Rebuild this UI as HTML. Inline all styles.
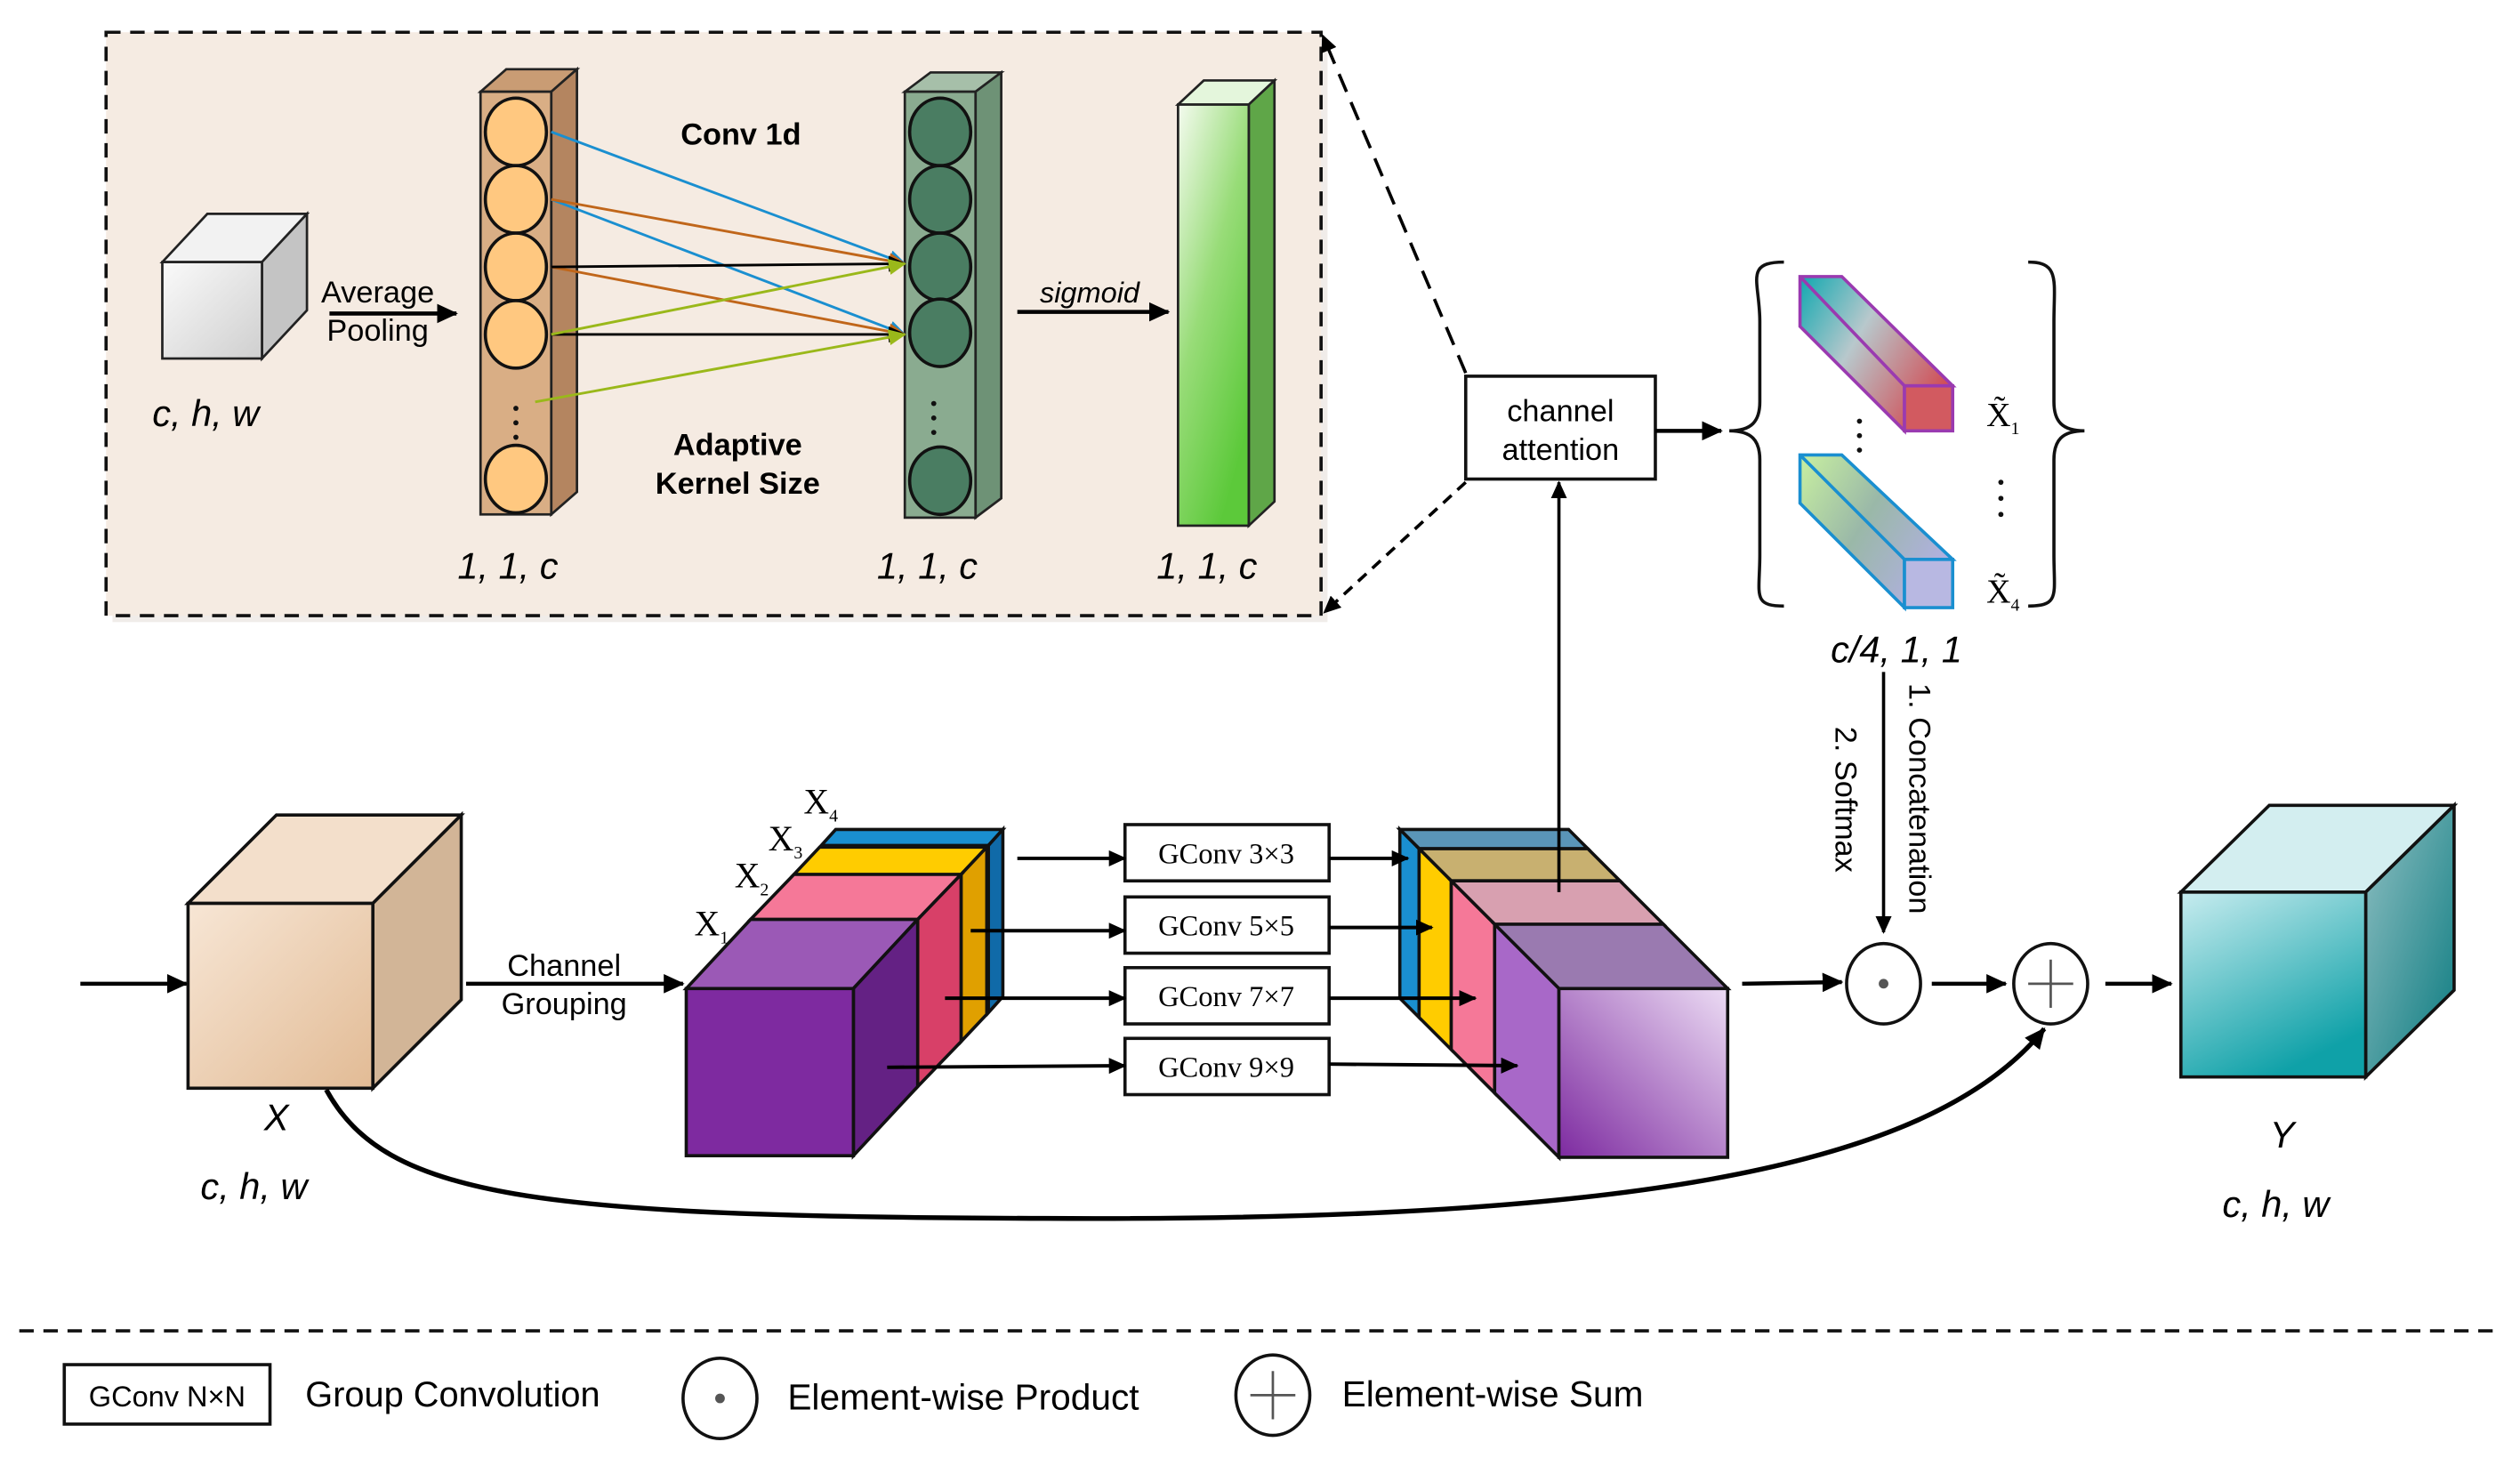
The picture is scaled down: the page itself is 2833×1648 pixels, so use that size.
<!DOCTYPE html>
<html><head><meta charset="utf-8"><style>html,body{margin:0;padding:0;background:#fff}svg{display:block}.s{font-family:"Liberation Sans",sans-serif}.r{font-family:"Liberation Serif",serif}</style></head><body>
<svg width="2833" height="1648" viewBox="0 0 1568 912" xmlns="http://www.w3.org/2000/svg" font-family="Liberation Sans, sans-serif">
<defs>
<marker id="a" markerWidth="14" markerHeight="12" refX="12" refY="6" orient="auto" markerUnits="userSpaceOnUse"><path d="M0,0 L13,6 L0,12 Z" fill="#000"/></marker>
<marker id="as" markerWidth="12" markerHeight="10" refX="10" refY="5" orient="auto" markerUnits="userSpaceOnUse"><path d="M0,0 L11,5 L0,10 Z" fill="#000"/></marker>
<marker id="ab" markerWidth="12" markerHeight="10" refX="10" refY="5" orient="auto" markerUnits="userSpaceOnUse"><path d="M0,0 L11,5 L0,10 Z" fill="#1a8fd0"/></marker>
<marker id="ao" markerWidth="12" markerHeight="10" refX="10" refY="5" orient="auto" markerUnits="userSpaceOnUse"><path d="M0,0 L11,5 L0,10 Z" fill="#c0661a"/></marker>
<marker id="ay" markerWidth="12" markerHeight="10" refX="10" refY="5" orient="auto" markerUnits="userSpaceOnUse"><path d="M0,0 L11,5 L0,10 Z" fill="#9ab81a"/></marker>
<linearGradient id="gw" x1="0" y1="0" x2="1" y2="1"><stop offset="0" stop-color="#fafafa"/><stop offset="1" stop-color="#cfcfcf"/></linearGradient>
<linearGradient id="gg" x1="0" y1="0" x2="0.6" y2="1"><stop offset="0" stop-color="#f4fbef"/><stop offset="0.5" stop-color="#98dc78"/><stop offset="1" stop-color="#5cc93a"/></linearGradient>
<linearGradient id="gx" x1="0" y1="0" x2="1" y2="1"><stop offset="0" stop-color="#f7e6d5"/><stop offset="1" stop-color="#e2bb95"/></linearGradient>
<linearGradient id="gy" x1="0" y1="0" x2="0.5" y2="1"><stop offset="0" stop-color="#c7ecef"/><stop offset="1" stop-color="#0fa1a8"/></linearGradient>
<linearGradient id="gys" x1="0" y1="0" x2="1" y2="1"><stop offset="0" stop-color="#8fbfc2"/><stop offset="1" stop-color="#0b7b80"/></linearGradient>
<linearGradient id="gp" x1="1" y1="0" x2="0" y2="1"><stop offset="0" stop-color="#ecdcf4"/><stop offset="1" stop-color="#7d2aa0"/></linearGradient>
<linearGradient id="t1" x1="0" y1="0" x2="1" y2="0.6"><stop offset="0" stop-color="#10a8b0"/><stop offset="0.45" stop-color="#b8c8cc"/><stop offset="1" stop-color="#d05058"/></linearGradient>
<linearGradient id="t2" x1="0" y1="0" x2="1" y2="0.6"><stop offset="0" stop-color="#c8f0a0"/><stop offset="0.5" stop-color="#9ab8a8"/><stop offset="1" stop-color="#b0b0e0"/></linearGradient>
</defs>

<rect x="70" y="24" width="756" height="363" fill="#e6e0da" opacity="0.6"/>
<rect x="66" y="20" width="756" height="363" fill="#f5ebe2" stroke="#111" stroke-width="2" stroke-dasharray="9,6"/>

<polygon points="101,163 163,163 191,133 129,133" fill="#f2f2f2" stroke="#222" stroke-width="1.5"/>
<polygon points="163,163 191,133 191,193 163,223" fill="#c4c4c4" stroke="#222" stroke-width="1.5"/>
<rect x="101" y="163" width="62" height="60" fill="url(#gw)" stroke="#222" stroke-width="1.5"/>
<text class="s" x="235" y="188" font-size="19" text-anchor="middle">Average</text>
<text class="s" x="235" y="212" font-size="19" text-anchor="middle">Pooling</text>
<line x1="205" y1="195" x2="284" y2="195" stroke="#000" stroke-width="2.5" marker-end="url(#a)"/>
<text class="s" x="128" y="265" font-size="23" font-style="italic" text-anchor="middle">c, h, w</text>

<polygon points="299,57 343,57 359,43 315,43" fill="#c99c74" stroke="#222" stroke-width="1.5"/>
<polygon points="343,57 359,43 359,306 343,320" fill="#b48560" stroke="#222" stroke-width="1.5"/>
<rect x="299" y="57" width="44" height="263" fill="#d9ae85" stroke="#222" stroke-width="1.5"/>
<g fill="#ffc880" stroke="#111" stroke-width="2">
<ellipse cx="321" cy="82" rx="19" ry="21"/><ellipse cx="321" cy="124" rx="19" ry="21"/><ellipse cx="321" cy="166" rx="19" ry="21"/><ellipse cx="321" cy="208" rx="19" ry="21"/><ellipse cx="321" cy="298" rx="19" ry="21"/></g>
<g fill="#111"><circle cx="321" cy="254" r="1.6"/><circle cx="321" cy="263" r="1.6"/><circle cx="321" cy="272" r="1.6"/></g>

<polygon points="563,57 607,57 623,45 579,45" fill="#a6bfa9" stroke="#222" stroke-width="1.5"/>
<polygon points="607,57 623,45 623,310 607,322" fill="#6e9276" stroke="#222" stroke-width="1.5"/>
<rect x="563" y="57" width="44" height="265" fill="#8aab90" stroke="#222" stroke-width="1.5"/>
<g fill="#4a7d62" stroke="#111" stroke-width="2">
<ellipse cx="585" cy="82" rx="19" ry="21"/><ellipse cx="585" cy="124" rx="19" ry="21"/><ellipse cx="585" cy="166" rx="19" ry="21"/><ellipse cx="585" cy="207" rx="19" ry="21"/><ellipse cx="585" cy="299" rx="19" ry="21"/></g>
<g fill="#111"><circle cx="581" cy="251" r="1.6"/><circle cx="581" cy="260" r="1.6"/><circle cx="581" cy="269" r="1.6"/></g>

<g stroke-width="1.6">
<line x1="343" y1="82" x2="563" y2="164" stroke="#1a8fd0" marker-end="url(#ab)"/>
<line x1="343" y1="124" x2="563" y2="208" stroke="#1a8fd0" marker-end="url(#ab)"/>
<line x1="343" y1="124" x2="563" y2="164" stroke="#c0661a" marker-end="url(#ao)"/>
<line x1="343" y1="166" x2="563" y2="208" stroke="#c0661a" marker-end="url(#ao)"/>
<line x1="343" y1="166" x2="563" y2="164" stroke="#000" marker-end="url(#as)"/>
<line x1="343" y1="208" x2="563" y2="208" stroke="#000" marker-end="url(#as)"/>
<line x1="343" y1="208" x2="563" y2="164" stroke="#9ab81a" marker-end="url(#ay)"/>
<line x1="333" y1="250" x2="563" y2="208" stroke="#9ab81a" marker-end="url(#ay)"/>
</g>
<text class="s" x="461" y="90" font-size="19" font-weight="bold" text-anchor="middle">Conv 1d</text>
<text class="s" x="459" y="283" font-size="19" font-weight="bold" text-anchor="middle">Adaptive</text>
<text class="s" x="459" y="307" font-size="19" font-weight="bold" text-anchor="middle">Kernel Size</text>
<text class="s" x="316" y="360" font-size="23" font-style="italic" text-anchor="middle">1, 1, c</text>
<text class="s" x="577" y="360" font-size="23" font-style="italic" text-anchor="middle">1, 1, c</text>
<text class="s" x="751" y="360" font-size="23" font-style="italic" text-anchor="middle">1, 1, c</text>
<text class="s" x="678" y="188" font-size="18" font-style="italic" text-anchor="middle">sigmoid</text>
<line x1="633" y1="194" x2="727" y2="194" stroke="#000" stroke-width="2.5" marker-end="url(#a)"/>

<polygon points="733,65 777,65 793,50 749,50" fill="#e4f6dc" stroke="#222" stroke-width="1.5"/>
<polygon points="777,65 793,50 793,312 777,327" fill="#5fa648" stroke="#222" stroke-width="1.5"/>
<rect x="733" y="65" width="44" height="262" fill="url(#gg)" stroke="#222" stroke-width="1.5"/>

<line x1="912" y1="232" x2="823" y2="22" stroke="#000" stroke-width="2" stroke-dasharray="12,7" marker-end="url(#as)"/>
<line x1="912" y1="300" x2="824" y2="381" stroke="#000" stroke-width="2" stroke-dasharray="7,5" marker-end="url(#as)"/>
<rect x="912" y="234" width="118" height="64" fill="#fff" stroke="#111" stroke-width="2"/>
<text class="s" x="971" y="262" font-size="19" text-anchor="middle">channel</text>
<text class="s" x="971" y="286" font-size="19" text-anchor="middle">attention</text>
<line x1="1030" y1="268" x2="1071" y2="268" stroke="#000" stroke-width="2.5" marker-end="url(#a)"/>

<path d="M1110,163 C1085,163 1095,175 1095,200 L1095,250 C1095,262 1090,268 1076,268 C1090,268 1095,274 1095,286 L1095,345 C1095,370 1090,377 1110,377" fill="none" stroke="#111" stroke-width="2"/>
<path d="M1262,163 C1282,163 1278,175 1278,200 L1278,250 C1278,262 1283,268 1297,268 C1283,268 1278,274 1278,286 L1278,345 C1278,370 1282,377 1262,377" fill="none" stroke="#111" stroke-width="2"/>
<polygon points="1120,172 1146,172 1215,240 1185,240 1185,268 1120,203" fill="url(#t1)" stroke="#9a3ab0" stroke-width="2"/>
<line x1="1120" y1="172" x2="1185" y2="240" stroke="#9a3ab0" stroke-width="2"/>
<rect x="1185" y="240" width="30" height="28" fill="#d25a60" stroke="#9a3ab0" stroke-width="2"/>
<polygon points="1120,283 1146,283 1215,348 1185,348 1185,378 1120,313" fill="url(#t2)" stroke="#1a8fd0" stroke-width="2"/>
<line x1="1120" y1="283" x2="1185" y2="348" stroke="#1a8fd0" stroke-width="2"/>
<rect x="1185" y="348" width="30" height="30" fill="#b8b8e2" stroke="#1a8fd0" stroke-width="2"/>
<g fill="#111"><circle cx="1157" cy="262" r="1.6"/><circle cx="1157" cy="271" r="1.6"/><circle cx="1157" cy="280" r="1.6"/>
<circle cx="1245" cy="300" r="1.6"/><circle cx="1245" cy="310" r="1.6"/><circle cx="1245" cy="320" r="1.6"/></g>
<text class="r" x="1236" y="265" font-size="21">X̃<tspan font-size="11" dy="5">1</tspan></text>
<text class="r" x="1236" y="375" font-size="21">X̃<tspan font-size="11" dy="5">4</tspan></text>
<text class="s" x="1180" y="412" font-size="23" font-style="italic" text-anchor="middle">c/4, 1, 1</text>

<line x1="1172" y1="418" x2="1172" y2="580" stroke="#000" stroke-width="2" marker-end="url(#as)"/>
<text class="s" transform="translate(1188,425) rotate(90)" font-size="19">1. Concatenation</text>
<text class="s" transform="translate(1142,452) rotate(90)" font-size="19">2. Softmax</text>

<polygon points="117,562 232,562 287,507 172,507" fill="#f3dfcb" stroke="#111" stroke-width="2"/>
<polygon points="232,562 287,507 287,622 232,677" fill="#d2b597" stroke="#111" stroke-width="2"/>
<rect x="117" y="562" width="115" height="115" fill="url(#gx)" stroke="#111" stroke-width="2"/>
<line x1="50" y1="612" x2="116" y2="612" stroke="#000" stroke-width="2.5" marker-end="url(#a)"/>
<text class="s" x="172" y="703" font-size="23" font-style="italic" text-anchor="middle">X</text>
<text class="s" x="158" y="746" font-size="23" font-style="italic" text-anchor="middle">c, h, w</text>
<text class="s" x="351" y="607" font-size="19" text-anchor="middle">Channel</text>
<text class="s" x="351" y="631" font-size="19" text-anchor="middle">Grouping</text>
<line x1="290" y1="612" x2="425" y2="612" stroke="#000" stroke-width="2.5" marker-end="url(#a)"/>

<g stroke="#111" stroke-width="2">
<polygon points="511,526 615,526 624,516 520,516" fill="#1a8fd0"/>
<polygon points="615,526 624,516 624,620 615,630" fill="#106aa8"/>
<polygon points="494,544 598,544 614,527 510,527" fill="#ffcc00"/>
<polygon points="598,544 614,527 614,631 598,648" fill="#e0a000"/>
<polygon points="467,572 571,572 598,544 494,544" fill="#f57898"/>
<polygon points="571,572 598,544 598,648 571,676" fill="#d84068"/>
<polygon points="427,615 531,615 571,572 467,572" fill="#9b59b6"/>
<polygon points="531,615 571,572 571,676 531,719" fill="#642184"/>
<rect x="427" y="615" width="104" height="104" fill="#7e2aa0"/>
</g>
<g class="r" font-size="22">
<text class="r" x="432" y="582">X<tspan font-size="11" dy="5">1</tspan></text>
<text class="r" x="457" y="552">X<tspan font-size="11" dy="5">2</tspan></text>
<text class="r" x="478" y="529">X<tspan font-size="11" dy="5">3</tspan></text>
<text class="r" x="500" y="506">X<tspan font-size="11" dy="5">4</tspan></text>
</g>

<g stroke="#111" stroke-width="2" fill="#fff">
<rect x="700" y="513" width="127" height="35"/><rect x="700" y="558" width="127" height="35"/>
<rect x="700" y="602" width="127" height="35"/><rect x="700" y="646" width="127" height="35"/></g>
<g font-size="18" text-anchor="middle">
<text class="r" x="763" y="537">GConv 3×3</text><text class="r" x="763" y="582">GConv 5×5</text>
<text class="r" x="763" y="626">GConv 7×7</text><text class="r" x="763" y="670">GConv 9×9</text></g>
<g stroke="#000" stroke-width="2.2" marker-end="url(#as)">
<line x1="633" y1="534" x2="700" y2="534"/><line x1="604" y1="579" x2="700" y2="579"/>
<line x1="588" y1="621" x2="700" y2="621"/><line x1="552" y1="664" x2="700" y2="663"/>
</g>

<g stroke="#111" stroke-width="2">
<polygon points="883,528 988,528 976,516 871,516" fill="#5a95b8"/>
<polygon points="883,528 871,516 871,621 883,633" fill="#1a8fd0"/>
<polygon points="903,548 1008,548 988,528 883,528" fill="#c8b070"/>
<polygon points="903,548 883,528 883,633 903,653" fill="#ffcc00"/>
<polygon points="930,575 1035,575 1008,548 903,548" fill="#d8a0b0"/>
<polygon points="930,575 903,548 903,653 930,680" fill="#f57898"/>
<polygon points="970,615 1075,615 1035,575 930,575" fill="#9a7ab0"/>
<polygon points="970,615 930,575 930,680 970,720" fill="#a868c8"/>
<rect x="970" y="615" width="105" height="105" fill="url(#gp)"/>
</g>
<g stroke="#000" stroke-width="2.2" marker-end="url(#as)">
<line x1="827" y1="534" x2="876" y2="534"/><line x1="827" y1="577" x2="891" y2="577"/>
<line x1="827" y1="621" x2="918" y2="621"/><line x1="827" y1="662" x2="944" y2="663"/>
</g>
<line x1="970" y1="555" x2="970" y2="300" stroke="#000" stroke-width="2" marker-end="url(#as)"/>

<line x1="1084" y1="612" x2="1146" y2="611" stroke="#000" stroke-width="2.5" marker-end="url(#a)"/>
<ellipse cx="1172" cy="612" rx="23" ry="25" fill="#fff" stroke="#111" stroke-width="2"/>
<circle cx="1172" cy="612" r="3" fill="#555"/>
<line x1="1202" y1="612" x2="1248" y2="612" stroke="#000" stroke-width="2.5" marker-end="url(#a)"/>
<ellipse cx="1276" cy="612" rx="23" ry="25" fill="#fff" stroke="#111" stroke-width="2"/>
<line x1="1262" y1="612" x2="1290" y2="612" stroke="#555" stroke-width="1.5"/><line x1="1276" y1="597" x2="1276" y2="627" stroke="#555" stroke-width="1.5"/>
<line x1="1310" y1="612" x2="1351" y2="612" stroke="#000" stroke-width="2.5" marker-end="url(#a)"/>

<path d="M203,678 C240,745 330,757 650,758 C1000,760 1200,730 1272,640" fill="none" stroke="#000" stroke-width="3" marker-end="url(#a)"/>

<polygon points="1357,555 1472,555 1527,501 1412,501" fill="#d3eef0" stroke="#111" stroke-width="2"/>
<polygon points="1472,555 1527,501 1527,616 1472,670" fill="url(#gys)" stroke="#111" stroke-width="2"/>
<rect x="1357" y="555" width="115" height="115" fill="url(#gy)" stroke="#111" stroke-width="2"/>
<text class="s" x="1420" y="714" font-size="23" font-style="italic" text-anchor="middle">Y</text>
<text class="s" x="1416" y="757" font-size="23" font-style="italic" text-anchor="middle">c, h, w</text>

<line x1="12" y1="828" x2="1556" y2="828" stroke="#111" stroke-width="2" stroke-dasharray="9,6"/>
<rect x="40" y="849" width="128" height="37" fill="#fff" stroke="#111" stroke-width="2"/>
<text class="s" x="104" y="875" font-size="18" text-anchor="middle">GConv N×N</text>
<text class="s" x="190" y="875" font-size="22">Group Convolution</text>
<ellipse cx="448" cy="870" rx="23" ry="25" fill="#fff" stroke="#111" stroke-width="2"/>
<circle cx="448" cy="870" r="3" fill="#555"/>
<text class="s" x="490" y="877" font-size="22.5">Element-wise Product</text>
<ellipse cx="792" cy="868" rx="23" ry="25" fill="#fff" stroke="#111" stroke-width="2"/>
<line x1="778" y1="868" x2="806" y2="868" stroke="#555" stroke-width="1.5"/><line x1="792" y1="853" x2="792" y2="883" stroke="#555" stroke-width="1.5"/>
<text class="s" x="835" y="875" font-size="22.5">Element-wise Sum</text>
</svg>
</body></html>
